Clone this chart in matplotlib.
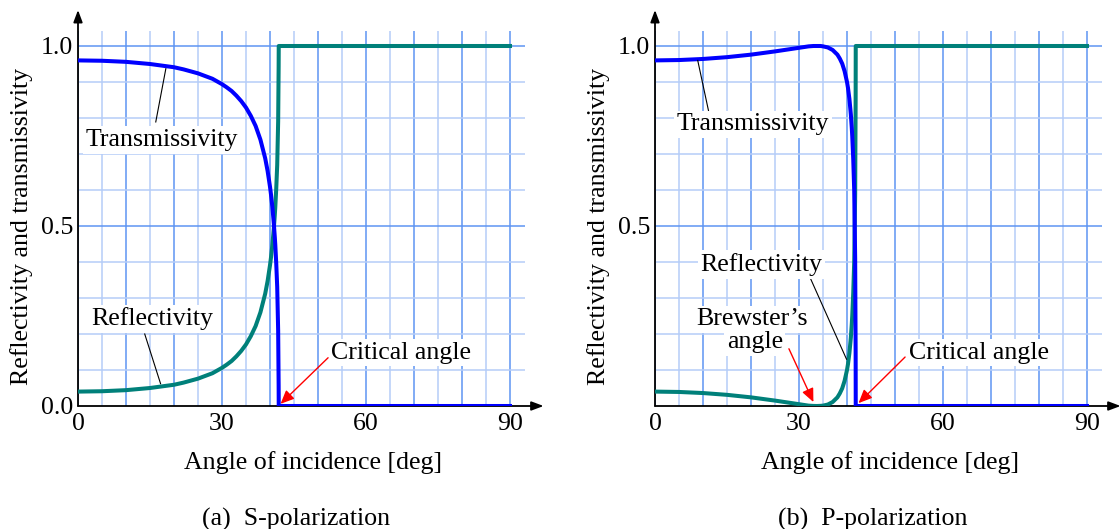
import numpy as np
import matplotlib
matplotlib.use('Agg')
import matplotlib.pyplot as plt

plt.rcParams['font.family'] = ['Liberation Serif', 'DejaVu Serif']

# (a) S-polarization, values
ang_s = [0, 5, 10, 15, 20, 22, 25, 28, 30, 31, 32, 33, 34, 35, 36, 37, 38, 39,
         39.5, 40, 40.2, 40.5, 40.8, 41, 41.1, 41.3, 41.5, 41.7, 41.8, 41.82, 90]
refl_s = [0.040, 0.041, 0.044, 0.050, 0.059, 0.065, 0.076, 0.091, 0.106, 0.115,
          0.125, 0.138, 0.153, 0.171, 0.194, 0.222, 0.260, 0.312, 0.347, 0.391,
          0.412, 0.448, 0.494, 0.531, 0.552, 0.604, 0.669, 0.791, 0.942, 1.0, 1.0]
trans_s = [0.960, 0.959, 0.956, 0.950, 0.941, 0.935, 0.924, 0.909, 0.894, 0.885,
           0.875, 0.862, 0.847, 0.829, 0.806, 0.778, 0.740, 0.688, 0.653, 0.609,
           0.588, 0.552, 0.506, 0.469, 0.448, 0.396, 0.331, 0.209, 0.058, 0.0, 0.0]

# (b) P-polarization
ang_p = [0, 5, 10, 15, 20, 25, 28, 30, 31, 32, 33, 33.7, 34.5, 35, 36, 37, 38,
         38.5, 39, 39.5, 40, 40.2, 40.5, 40.8, 41, 41.1, 41.3, 41.5, 41.7, 41.8,
         41.82, 90]
refl_p = [0.040, 0.039, 0.036, 0.031, 0.024, 0.015, 0.009, 0.005, 0.003, 0.001,
          0.0002, 0.0, 0.0004, 0.001, 0.004, 0.011, 0.024, 0.035, 0.049, 0.070,
          0.100, 0.116, 0.147, 0.190, 0.228, 0.252, 0.314, 0.400, 0.589, 0.851,
          1.0, 1.0]
trans_p = [0.960, 0.961, 0.964, 0.969, 0.976, 0.985, 0.991, 0.995, 0.997, 0.999,
           1.000, 1.000, 1.000, 0.999, 0.996, 0.989, 0.976, 0.965, 0.951, 0.930,
           0.900, 0.884, 0.853, 0.810, 0.772, 0.748, 0.686, 0.600, 0.411, 0.149,
           0.0, 0.0]

x_ticks = [0, 30, 60, 90]
y_ticks_a = [0.0, 0.5, 1.0]
y_ticks_b = [0.5, 1.0]
grid_x = np.arange(0, 91, 5)
grid_y = np.round(np.arange(0.1, 1.01, 0.1), 1)

BLUE = '#0000ff'
TEAL = '#00807a'
MAJOR = '#5e95f2'
MINOR = '#b5cdf8'
FS = 18.6

fig = plt.figure(figsize=(11.2, 5.29), dpi=100)


def label(ax, x, y, s):
    ax.text(x, y, s, ha='center', va='baseline', fontsize=FS, zorder=5,
            bbox=dict(boxstyle='square,pad=0.1', fc='white', ec='none'))


def leader(ax, p0, p1):
    ax.plot([p0[0], p1[0]], [p0[1], p1[1]], color='black', lw=0.8, zorder=4)


def red_arrow(ax, tail, head):
    ax.annotate('', xy=head, xytext=tail, zorder=6,
                arrowprops=dict(arrowstyle='-|>,head_length=0.45,head_width=0.2',
                                color='red', lw=1.0, shrinkA=0, shrinkB=0,
                                mutation_scale=18))


def panel(left, ang, refl, trans, yticks, title):
    ax = fig.add_axes([left, 123 / 529, 465.6 / 1120, 396 / 529])
    ax.set_xlim(0, 97)
    ax.set_ylim(0, 1.1)
    for s in ax.spines.values():
        s.set_visible(False)

    # grid
    ax.vlines(grid_x, 0, 1.042, colors=[MAJOR if g % 10 == 0 else MINOR for g in grid_x],
              lw=1.1, zorder=1)
    ax.hlines(grid_y, 0, 93.2, colors=[MAJOR if g in (0.5, 1.0) else MINOR for g in grid_y],
              lw=1.1, zorder=1)

    # axes with arrows
    arrow = dict(arrowstyle='-|>,head_length=0.4,head_width=0.15', color='black',
                 lw=1.3, shrinkA=0, shrinkB=0, mutation_scale=18)
    ax.annotate('', xy=(97, 0), xytext=(0, 0), arrowprops=arrow, zorder=2,
                annotation_clip=False)
    ax.annotate('', xy=(0, 1.1), xytext=(0, 0), arrowprops=arrow, zorder=2,
                annotation_clip=False)

    ax.plot(ang, refl, color=TEAL, lw=2.9, zorder=3, solid_joinstyle='round')
    ax.plot(ang, trans, color=BLUE, lw=2.9, zorder=3.1, solid_joinstyle='round')

    ax.set_xticks(x_ticks)
    ax.set_xticklabels([str(t) for t in x_ticks], fontsize=FS)
    ax.set_yticks(yticks)
    ax.set_yticklabels(['%.1f' % t for t in yticks], fontsize=FS)
    ax.tick_params(axis='x', length=0, pad=5)
    ax.tick_params(axis='y', length=0, pad=3.5)

    ax.text(-11.8, 0.5, 'Reflectivity and transmissivity', rotation=90,
            ha='center', va='center', fontsize=FS)
    ax.text(48.9, -0.175, 'Angle of incidence [deg]', ha='center', va='baseline',
            fontsize=FS)
    ax.text(45.4, -0.332, title, ha='center', va='baseline', fontsize=FS)
    return ax


ax_a = panel(78 / 1120, ang_s, refl_s, trans_s, y_ticks_a, '(a)  S-polarization')
label(ax_a, 17.4, 0.722, 'Transmissivity')
leader(ax_a, (16.2, 0.789), (18.3, 0.937))
label(ax_a, 15.5, 0.224, 'Reflectivity')
leader(ax_a, (13.9, 0.200), (17.2, 0.062))
label(ax_a, 67.3, 0.131, 'Critical angle')
red_arrow(ax_a, (52.1, 0.134), (42.2, 0.006))

ax_b = panel(655 / 1120, ang_p, refl_p, trans_p, y_ticks_b, '(b)  P-polarization')
label(ax_b, 20.4, 0.766, 'Transmissivity')
leader(ax_b, (11.2, 0.817), (8.9, 0.960))
label(ax_b, 22.2, 0.375, 'Reflectivity')
leader(ax_b, (32.4, 0.354), (39.9, 0.130))
label(ax_b, 20.3, 0.224, 'Brewster\u2019s')
label(ax_b, 20.8, 0.161, 'angle')
red_arrow(ax_b, (27.9, 0.159), (33.0, 0.011))
label(ax_b, 67.5, 0.131, 'Critical angle')
red_arrow(ax_b, (52.1, 0.136), (42.4, 0.008))

fig.savefig('out.png', dpi=100)
